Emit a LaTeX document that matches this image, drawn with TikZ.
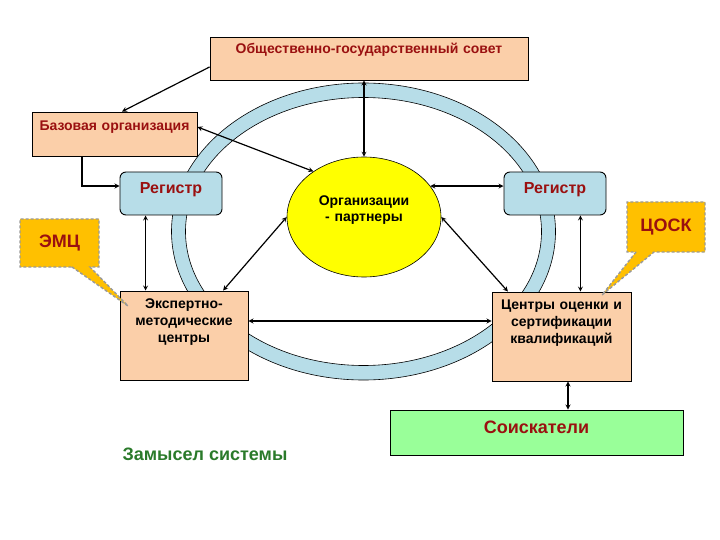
\documentclass[tikz,border=0pt]{standalone}
\usepackage{fontspec}
\setmainfont{Liberation Sans}
\usepackage{xcolor}
\usetikzlibrary{arrows,shapes.geometric,shapes.callouts}
\definecolor{peach}{HTML}{FBCFA9}
\definecolor{regblue}{HTML}{B7DDE8}
\definecolor{sun}{HTML}{FFFF00}
\definecolor{mint}{HTML}{99FF99}
\definecolor{amber}{HTML}{FFC000}
\definecolor{amberln}{HTML}{999999}
\definecolor{wine}{HTML}{9A1010}
\definecolor{leaf}{HTML}{2A7A2A}
\newcommand{\fsz}[2]{\fontsize{#1}{#2}\selectfont}
\tikzset{
  every node/.style={font=\bfseries},
  box/.style={draw,line width=0.9pt,fill=peach,align=center,inner sep=0pt,
              font=\bfseries\fsz{14}{17}},
  head/.style={box,text=wine},
  reg/.style={box,fill=regblue,rounded corners=6pt,text=wine,
              font=\bfseries\fsz{16}{19}},
  hub/.style={ellipse,draw,line width=0.6pt,fill=sun,align=center,inner sep=0pt,
              font=\bfseries\fsz{14}{16}},
  tag/.style={rectangle callout,fill=amber,draw=amberln,line width=1.4pt,
              dash pattern=on 3pt off 2pt,callout pointer width=18pt,
              text=wine,inner sep=0pt,font=\bfseries\fsz{18}{20}},
  link/.style={<->,>=stealth,line width=1.2pt},
  feed/.style={->,>=stealth,line width=1.2pt},
}

\begin{document}
\begin{tikzpicture}[x=1pt,y=-1pt]
\useasboundingbox (0,0) rectangle (720,540);
% ring behind everything
\fill[regblue,even odd rule] (363.5,231.5) ellipse [x radius=192, y radius=148.5]
  (363.5,231.5) ellipse [x radius=178, y radius=134];
\draw[line width=0.6pt] (363.5,231.5) ellipse [x radius=192, y radius=148.5];
\draw[line width=0.6pt] (363.5,231.5) ellipse [x radius=178, y radius=134];

\node[head,text width=318pt,text height=17pt,text depth=26pt] (council) at (369,58.5) {Общественно-государственный совет};
\node[head,text width=165pt,text height=19pt,text depth=25pt] (base) at (114.5,134) {Базовая организация};
\node[reg,text width=102pt,text height=22pt,text depth=21pt] (regL) at (171,193.5) {Регистр};
\node[reg,text width=102pt,text height=22pt,text depth=21pt] (regR) at (555,193.5) {Регистр};
\node[hub,minimum width=154pt,minimum height=120pt,text width=100pt,text height=15pt,text depth=37pt] (partners) at (364,217) {Организации\\- партнеры};
\node[box,text width=128pt,text height=17pt,text depth=72pt] (expert) at (184,335.5) {Экспертно-\\методические\\центры};
\node[box,text width=139pt,text height=17pt,text depth=72pt] (certs) at (561.5,336.5) {Центры оценки и\\сертификации\\квалификаций};
\node[box,fill=mint,text=wine,font=\bfseries\fsz{18}{20},text width=293pt,text height=23pt,text depth=22pt] (seekers) at (536.5,432.5) {Соискатели};
\node[tag,minimum width=79pt,minimum height=48pt,callout absolute pointer={(128,306)}] (emc) at (59.5,243) {ЭМЦ};
\node[tag,minimum width=78pt,minimum height=50pt,callout absolute pointer={(602,295)}] (cosk) at (666,227) {ЦОСК};
\node[text=leaf,font=\bfseries\fsz{18}{20}] (plan) at (205,454.5) {Замысел системы};

\draw[feed] ([yshift=-8.5pt]council.west) -- ([xshift=7.5pt]base.north);
\draw[feed] ([xshift=-32.5pt]base.south) |- ([yshift=7.5pt]regL.west);
\draw[link] ([yshift=7pt]base.east) -- (partners.138);
\draw[link] (partners.north |- council.south) -- (partners.north);
\draw[link] (partners.25) -- (partners.25 -| regR.west);
\draw[link] (partners.west) -- (expert.49);
\draw[link] (partners.east) -- (certs.140);
\draw[link] ([xshift=26pt]regL.south west) -- ([xshift=26pt]expert.north west);
\draw[link] ([xshift=-26pt]regR.south east) -- ([xshift=-26pt]regR.south east |- certs.north);
\draw[link] ([yshift=14.5pt]expert.east) -- ([yshift=14.5pt]expert.east -| certs.west);
\draw[link] ([xshift=6.5pt]certs.south) -- ([xshift=6.5pt]certs.south |- seekers.north);
\end{tikzpicture}
\end{document}
